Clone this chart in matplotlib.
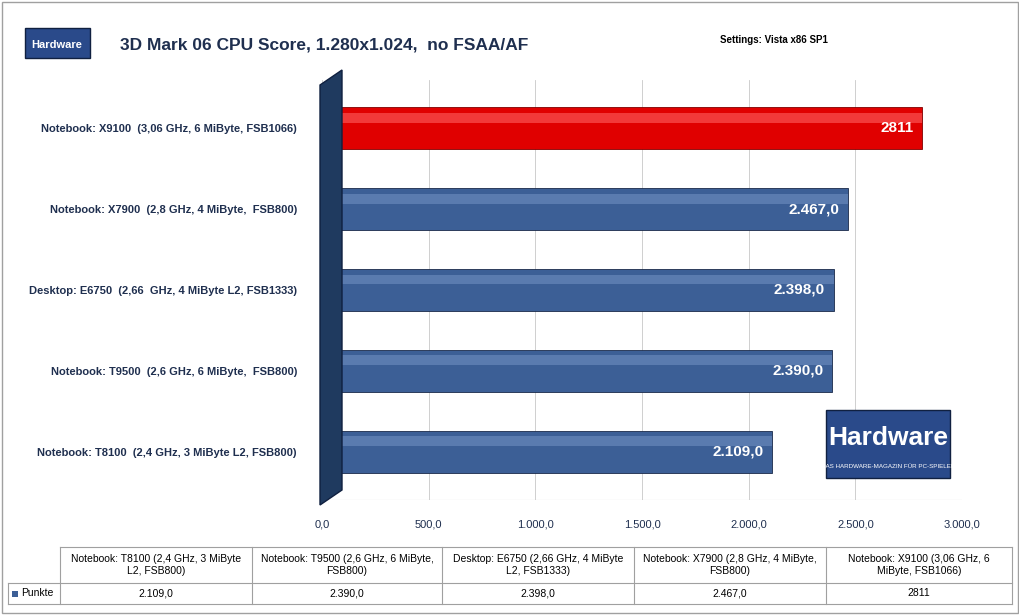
import matplotlib
matplotlib.use("Agg")
import matplotlib.pyplot as plt
from matplotlib.patches import Rectangle, Polygon

plt.rcParams['font.family'] = ['Liberation Sans', 'DejaVu Sans']

categories = ["Notebook: T8100  (2,4 GHz, 3 MiByte L2, FSB800)",
              "Notebook: T9500  (2,6 GHz, 6 MiByte,  FSB800)",
              "Desktop: E6750  (2,66  GHz, 4 MiByte L2, FSB1333)",
              "Notebook: X7900  (2,8 GHz, 4 MiByte,  FSB800)",
              "Notebook: X9100  (3,06 GHz, 6 MiByte, FSB1066)"]
values = [2109.0, 2390.0, 2398.0, 2467.0, 2811.0]
value_labels = ["2.109,0", "2.390,0", "2.398,0", "2.467,0", "2811"]
table_headers = ["Notebook: T8100 (2,4 GHz, 3 MiByte\nL2, FSB800)",
                 "Notebook: T9500 (2,6 GHz, 6 MiByte,\nFSB800)",
                 "Desktop: E6750 (2,66 GHz, 4 MiByte\nL2, FSB1333)",
                 "Notebook: X7900 (2,8 GHz, 4 MiByte,\nFSB800)",
                 "Notebook: X9100 (3,06 GHz, 6\nMiByte, FSB1066)"]
ticks = [0, 500, 1000, 1500, 2000, 2500, 3000]
tick_labels = ["0,0", "500,0", "1.000,0", "1.500,0", "2.000,0", "2.500,0", "3.000,0"]

W, H = 1020, 615
fig = plt.figure(figsize=(W/100, H/100), dpi=100)
fig.patch.set_facecolor("white")
fig.add_artist(Rectangle((0.002, 0.003), 0.996, 0.994, transform=fig.transFigure,
                         fill=False, ec="#a0a0a0", lw=1))

ax = fig.add_axes([322/W, 1-500/H, 640/W, 420/H])
ax.set_xlim(0, 3000)
ax.set_ylim(-0.6, 4.6)
for s in ax.spines.values():
    s.set_visible(False)
ax.set_xticks(ticks)
ax.set_xticklabels(tick_labels, fontsize=8, color="#1f2f4f")
ax.tick_params(axis="x", length=0, pad=14)
ax.set_yticks(range(5))
ax.set_yticklabels(categories, fontsize=8, fontweight="bold", color="#1f2f4f")
ax.tick_params(axis="y", length=0, pad=18)
for t in ticks:
    ax.axvline(t, color="#c8c8c8", lw=0.6, zorder=0)
ax.axhline(-0.6, color="#c8c8c8", lw=0.8)

for i, (v, lab) in enumerate(zip(values, value_labels)):
    red = i == 4
    c = "#e00000" if red else "#3c5f96"
    ax.barh(i, v, height=0.52, color=c, ec="#800000" if red else "#1a2a4a", lw=0.6, zorder=3)
    ax.barh(i + 0.13, v, height=0.12, color="#ff6060" if red else "#6f8fc0", lw=0, zorder=4, alpha=0.6)
    ax.text(v - 40, i, lab, ha="right", va="center", color="white",
            fontsize=11, fontweight="bold", zorder=5)

# left dark wall
fig.add_artist(Polygon([(320/W, 1-505/H), (342/W, 1-490/H), (342/W, 1-70/H), (320/W, 1-85/H)],
                       closed=True, transform=fig.transFigure, fc="#1f3a5f", ec="#0f1f3f", zorder=5))

fig.text(120/W, 1-45/H, "3D Mark 06 CPU Score, 1.280x1.024,  no FSAA/AF", fontsize=12.5,
         fontweight="bold", color="#1f2f4f", va="center")
fig.text(720/W, 1-40/H, "Settings: Vista x86 SP1", fontsize=7, fontweight="bold", va="center")

# small logo top-left
fig.add_artist(Rectangle((25/W, 1-58/H), 65/W, 30/H, transform=fig.transFigure, fc="#2a4a8a", ec="#102040"))
fig.text(57/W, 1-45/H, "Hardware", fontsize=8, fontweight="bold", color="white", ha="center", va="center")
# big logo
fig.add_artist(Rectangle((826/W, 1-478/H), 124/W, 68/H, transform=fig.transFigure, fc="#2a4a8a", ec="#102040"))
fig.text(888/W, 1-438/H, "Hardware", fontsize=19, fontweight="bold", color="white", ha="center", va="center")
fig.text(888/W, 1-466/H, "DAS HARDWARE-MAGAZIN FÜR PC-SPIELER", fontsize=4.5, color="white", ha="center", va="center")

# table
xs = [60, 252, 442, 634, 826, 1012]
y0, y1, y2 = 1-547/H, 1-583/H, 1-604/H
lc = "#a0a0a0"
fig.add_artist(plt.Line2D([60/W, 1012/W], [y0, y0], transform=fig.transFigure, color=lc, lw=0.8))
fig.add_artist(plt.Line2D([8/W, 1012/W], [y1, y1], transform=fig.transFigure, color=lc, lw=0.8))
fig.add_artist(plt.Line2D([8/W, 1012/W], [y2, y2], transform=fig.transFigure, color=lc, lw=0.8))
fig.add_artist(plt.Line2D([8/W, 8/W], [y1, y2], transform=fig.transFigure, color=lc, lw=0.8))
for x in xs:
    fig.add_artist(plt.Line2D([x/W, x/W], [y0, y2], transform=fig.transFigure, color=lc, lw=0.8))
for k in range(5):
    cx = (xs[k] + xs[k+1]) / 2 / W
    fig.text(cx, (y0+y1)/2, table_headers[k], fontsize=7.5, ha="center", va="center", linespacing=1.3)
    fig.text(cx, (y1+y2)/2, value_labels[k], fontsize=7.5, ha="center", va="center")
fig.add_artist(Rectangle((12/W, 1-597/H), 6/W, 6/H, transform=fig.transFigure, fc="#3c5f96", ec="none"))
fig.text(21/W, (y1+y2)/2, "Punkte", fontsize=7.5, va="center")

fig.savefig("out.png", dpi=100)
